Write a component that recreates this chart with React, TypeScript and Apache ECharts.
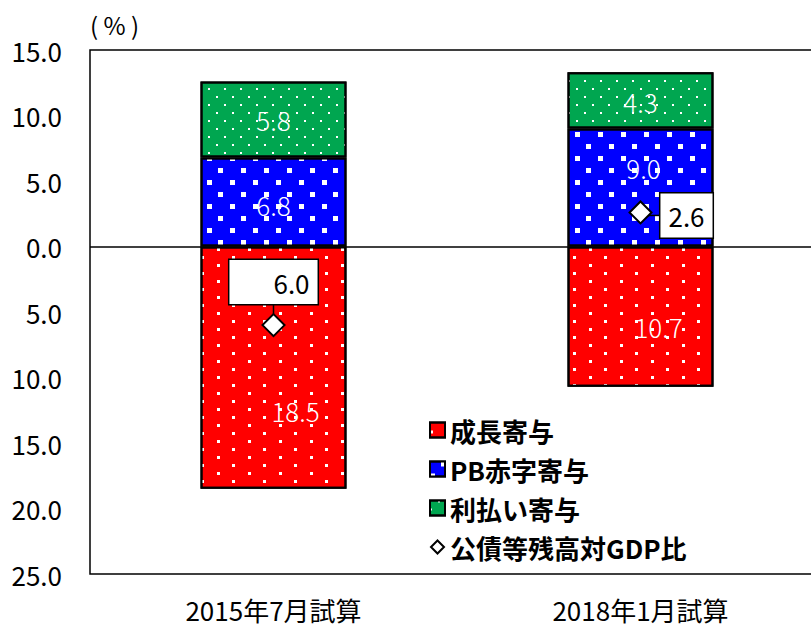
import React, { useEffect, useRef } from "react";
import * as echarts from "echarts";

const categories = ["2015年7月試算", "2018年1月試算"];
const seriesNames = ["成長寄与", "PB赤字寄与", "利払い寄与", "公債等残高対GDP比"];
const growth = [-18.5, -10.7];
const pbDeficit = [6.8, 9.0];
const interest = [5.8, 4.3];
const debtRatio = [-6.0, 2.6];
const yMin = -25;
const yMax = 15;
const yStep = 5;

const FONT = "'Noto Sans CJK JP', 'Noto Sans', sans-serif";

// label placement nudges (layout only)
const growthNudge = [[22, 43], [18, 10]];
const pbNudge = [[0, 3], [3, -20]];
const interestNudge = [[0, 0], [0, 1]];
const boxShift = [[0, -43], [46, 3]];

const fmt = (v: number) => Math.abs(v).toFixed(1);

export default function App() {
  const ref = useRef<HTMLDivElement>(null);
  useEffect(() => {
    if (!ref.current) return;
    const chart = echarts.init(ref.current, undefined, { renderer: "svg" });
    const barLabel = {
      show: true,
      position: "inside",
      color: "#fff",
      fontSize: 26,
      fontFamily: FONT,
      fontWeight: 300,
      formatter: (p: any) => fmt(p.value),
    };
    const barBase = {
      type: "bar",
      stack: "total",
      barWidth: 146,
      label: barLabel,
    };
    const option: any = {
      animation: false,
      backgroundColor: "#fff",
      grid: {
        left: 90,
        top: 50,
        right: -13,
        bottom: 52,
        containLabel: false,
        outerBoundsMode: "none",
        show: true,
        borderColor: "#000",
        borderWidth: 1.5,
        backgroundColor: "transparent",
      },
      graphic: [
        {
          id: "unit",
          type: "text",
          left: 90,
          top: 12,
          style: { text: "( % )", fontSize: 24, fontFamily: FONT, fill: "#000" },
        },
      ],
      legend: {
        data: [
          { name: seriesNames[0], icon: "rect" },
          { name: seriesNames[1], icon: "rect" },
          { name: seriesNames[2], icon: "rect" },
          { name: seriesNames[3], icon: "path://M0,0M15,15M7.5,1L14,7.5L7.5,14L1,7.5Z" },
        ],
        orient: "vertical",
        left: 424,
        top: 412,
        itemWidth: 15,
        itemHeight: 15,
        itemGap: 13,
        textStyle: {
          fontSize: 26,
          lineHeight: 26,
          fontWeight: "bold",
          color: "#000",
          fontFamily: FONT,
        },
      },
      xAxis: {
        type: "category",
        data: categories,
        axisLine: { show: false, onZero: false },
        axisTick: { show: false },
        axisLabel: {
          margin: 22,
          fontSize: 26,
          color: "#000",
          fontFamily: FONT,
        },
      },
      yAxis: {
        type: "value",
        min: yMin,
        max: yMax,
        interval: yStep,
        axisLine: { show: false },
        axisTick: { show: false },
        splitLine: { show: false },
        axisLabel: {
          margin: 28,
          fontSize: 26,
          color: "#000",
          fontFamily: FONT,
          formatter: (v: number) => fmt(v),
        },
      },
      series: [
        {
          ...barBase,
          name: seriesNames[0],
          itemStyle: {
            color: "#ff0000",
            borderColor: "#000",
            borderWidth: 2,
            decal: {
              symbol: "rect",
              symbolSize: 1,
              color: "#ffffff",
              dashArrayX: [[3, 28], [0, 15, 3, 13]],
              dashArrayY: [3, 5],
            },
          },
          data: growth.map((v, i) => ({ value: v, label: { offset: growthNudge[i] } })),
          markLine: {
            silent: true,
            symbol: ["none", "none"],
            label: { show: false },
            lineStyle: { color: "#000", type: "solid", width: 1.5 },
            data: [{ yAxis: 0 }],
          },
        },
        {
          ...barBase,
          name: seriesNames[1],
          itemStyle: {
            color: "#0000ff",
            borderColor: "#000",
            borderWidth: 2,
            decal: {
              symbol: "rect",
              symbolSize: 1,
              color: "#ffffff",
              dashArrayX: [[5, 18], [0, 11, 5, 7]],
              dashArrayY: [5, 7],
            },
          },
          data: pbDeficit.map((v, i) => ({ value: v, label: { offset: pbNudge[i] } })),
        },
        {
          ...barBase,
          name: seriesNames[2],
          itemStyle: {
            color: "#00a650",
            borderColor: "#000",
            borderWidth: 2,
            decal: {
              symbol: "rect",
              symbolSize: 1,
              color: "#ffffff",
              dashArrayX: [[2, 14], [0, 8, 2, 6]],
              dashArrayY: [2, 6],
            },
          },
          data: interest.map((v, i) => ({ value: v, label: { offset: interestNudge[i] } })),
        },
        {
          type: "scatter",
          name: seriesNames[3],
          symbol: "diamond",
          symbolSize: [22, 22],
          z: 10,
          itemStyle: { color: "#fff", borderColor: "#000", borderWidth: 2, opacity: 1 },
          label: {
            show: true,
            position: "inside",
            color: "#000",
            fontSize: 26,
            fontFamily: FONT,
            lineHeight: 34,
            backgroundColor: "#fff",
            borderColor: "#000",
            borderWidth: 1.5,
            formatter: (p: any) => fmt(p.value[1]),
          },
          labelLayout: (p: any) => ({ dx: boxShift[p.dataIndex][0], dy: boxShift[p.dataIndex][1] }),
          data: debtRatio.map((v, i) => ({
            value: [categories[i], v],
            label: { padding: i === 0 ? [5, 8, 5, 44] : [5, 8, 5, 8] },
          })),
        },
      ],
    };
    chart.setOption(option);

    // leader lines between diamonds and their value boxes
    const p0 = chart.convertToPixel({ gridIndex: 0 }, [0, debtRatio[0]]) as number[];
    const p1 = chart.convertToPixel({ gridIndex: 0 }, [1, debtRatio[1]]) as number[];
    const lineStyle = { stroke: "#000", lineWidth: 1.5 };
    chart.setOption({
      graphic: [
        {
          id: "lead0",
          type: "line",
          z: 5,
          shape: { x1: p0[0], y1: p0[1] - 11, x2: p0[0], y2: p0[1] + boxShift[0][1] + 22 },
          style: lineStyle,
        },
        {
          id: "lead1",
          type: "line",
          z: 5,
          shape: { x1: p1[0] + 5, y1: p1[1] + 3, x2: p1[0] + boxShift[1][0] - 25, y2: p1[1] + 3 },
          style: lineStyle,
        },
      ],
    });
    return () => chart.dispose();
  }, []);
  return (
    <div
      ref={ref}
      style={{ position: "fixed", left: 0, top: 0, width: 811, height: 626 }}
    />
  );
}
